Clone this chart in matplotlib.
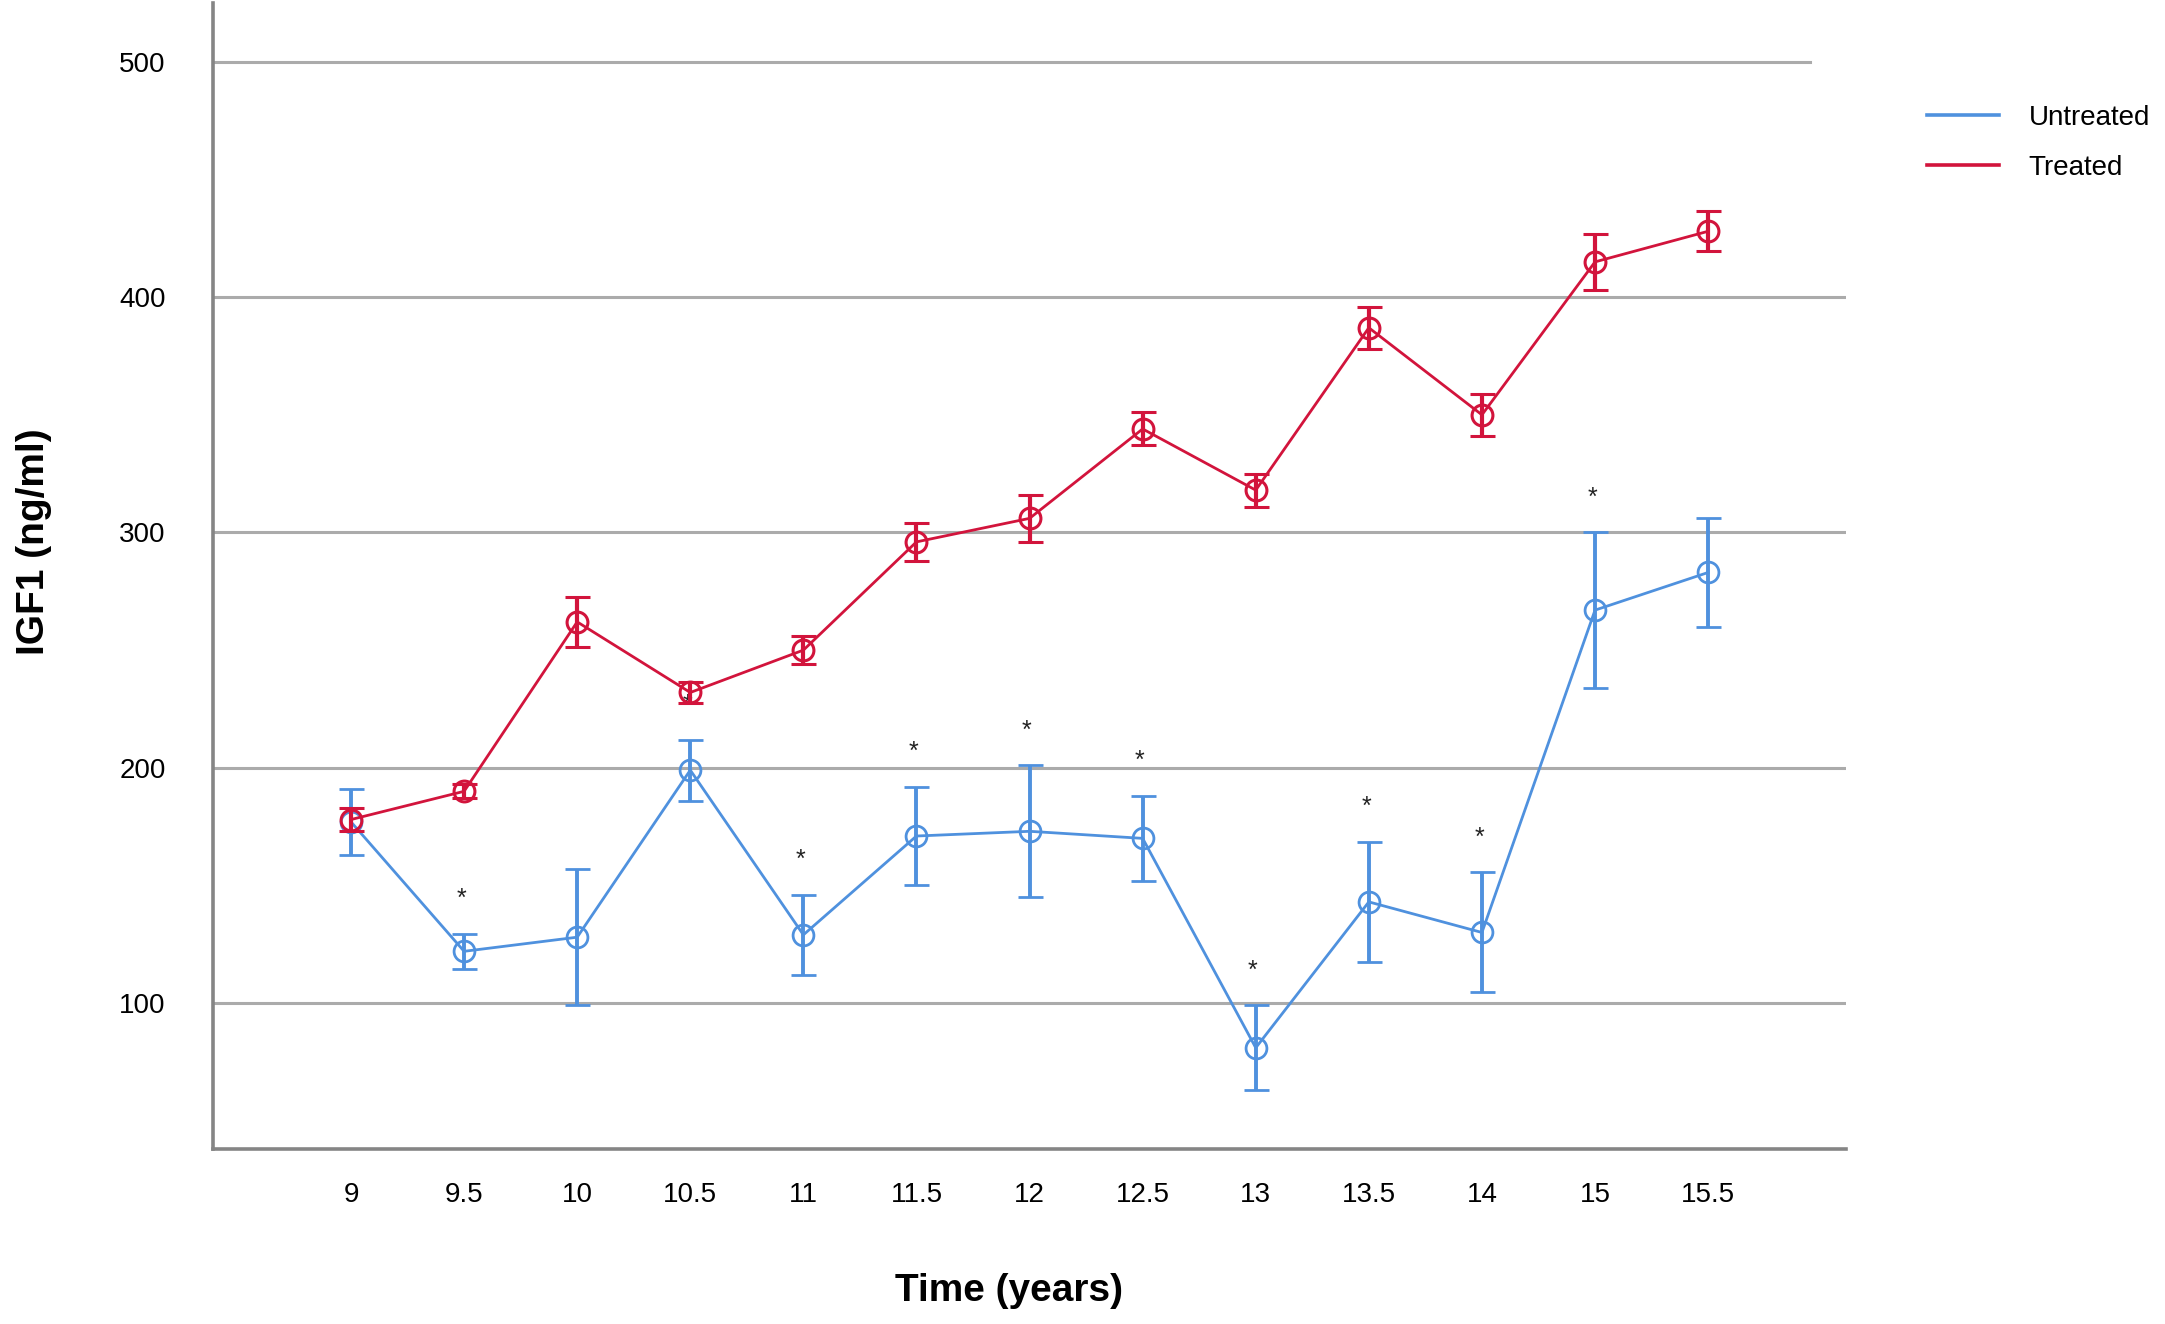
import matplotlib.pyplot as plt
from matplotlib.lines import Line2D
import numpy as np

plt.rcParams["font.family"] = ["Liberation Sans", "DejaVu Sans"]

# data
time_labels = ["9", "9.5", "10", "10.5", "11", "11.5", "12", "12.5", "13", "13.5", "14", "15", "15.5"]

untreated_mean = [177, 122, 128, 199, 129, 171, 173, 170, 81, 143, 130, 267, 283]
untreated_err = [14, 7.5, 29, 13, 17, 21, 28, 18, 18, 25.5, 25.5, 33, 23]

treated_mean = [178, 190, 262, 232, 250, 296, 306, 344, 318, 387, 350, 415, 428]
treated_err = [5, 3, 10.5, 4.5, 6, 8, 10, 7, 7, 9, 9, 12, 8.5]

# time points marked with * (significant difference)
star_points = ["9.5", "10.5", "11", "11.5", "12", "12.5", "13", "13.5", "14", "15"]

yticks = [100, 200, 300, 400, 500]

blue = "#4F91DE"
red = "#D2143C"

fig = plt.figure(figsize=(21.65, 13.24), dpi=100)
ax = fig.add_axes([0.0984, 0.1322, 0.7543, 0.8655])

x = np.arange(len(time_labels))

ax.errorbar(x, untreated_mean, yerr=untreated_err, color=blue, lw=2.0,
            marker="o", ms=15, mfc="none", mew=2.0,
            elinewidth=2.8, capsize=9, capthick=2.8, zorder=3)
ax.errorbar(x, treated_mean, yerr=treated_err, color=red, lw=2.0,
            marker="o", ms=15, mfc="none", mew=2.2,
            elinewidth=3.0, capsize=9, capthick=3.0, zorder=4)

for lab in star_points:
    i = time_labels.index(lab)
    ax.annotate("*", (x[i], untreated_mean[i] + untreated_err[i]),
                xytext=(-2, 25), textcoords="offset points",
                ha="center", va="center", fontsize=18, color="#222222")

ax.set_xlim(-1.22, 13.22)
ax.set_ylim(38, 525)
ax.set_xticks(x)
ax.set_xticklabels(time_labels)
ax.set_yticks(yticks)
ax.tick_params(axis="both", length=0, labelsize=20)
ax.tick_params(axis="x", pad=24)
ax.tick_params(axis="y", pad=34)

# gridlines (the top one stops a little short, as in the original)
for t in yticks:
    ax.axhline(t, xmax=0.978 if t == 500 else 1.0, color="#ABABAB", lw=2.2, zorder=1)
for s in ["top", "right"]:
    ax.spines[s].set_visible(False)
for s in ["left", "bottom"]:
    ax.spines[s].set_color("#858585")
    ax.spines[s].set_linewidth(2.6)

fig.text(1009 / 2165, 1 - 1291 / 1324, "Time (years)", ha="center", va="center",
         fontsize=28, fontweight="bold")
fig.text(34 / 2165, 1 - 542 / 1324, "IGF1 (ng/ml)", ha="center", va="center",
         rotation=90, fontsize=28, fontweight="bold")

handles = [Line2D([], [], color=blue, lw=2.6), Line2D([], [], color=red, lw=2.6)]
fig.legend(handles, ["Untreated", "Treated"], loc="upper left",
           bbox_to_anchor=(1927 / 2165, 1 - 105 / 1324), frameon=False,
           fontsize=20, borderpad=0, borderaxespad=0, handlelength=2.6,
           handletextpad=1.05, labelspacing=0.85)

fig.savefig("out.png", dpi=100)
